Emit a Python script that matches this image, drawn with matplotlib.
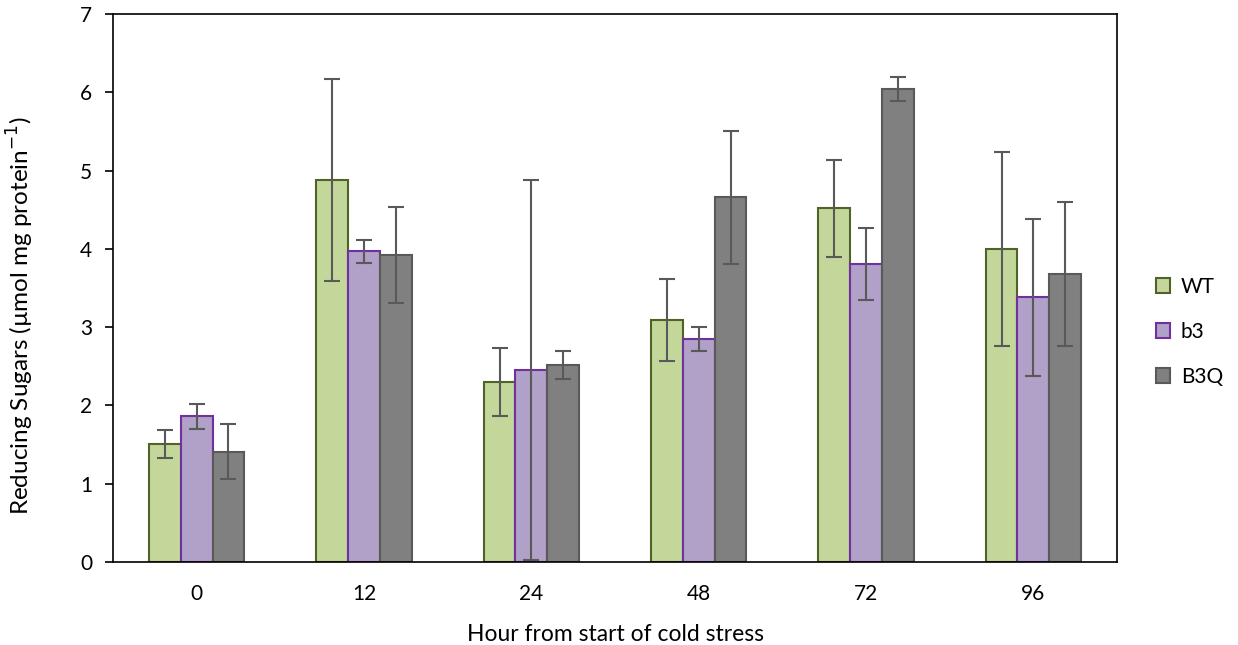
import numpy as np
import matplotlib.pyplot as plt

plt.rcParams['font.family'] = ['Lato', 'DejaVu Sans']

# Data
hours = ['0', '12', '24', '48', '72', '96']
wt = [1.51, 4.88, 2.30, 3.09, 4.52, 4.00]
wt_err = [0.18, 1.29, 0.43, 0.52, 0.62, 1.24]
b3 = [1.86, 3.97, 2.45, 2.85, 3.81, 3.38]
b3_err = [0.16, 0.145, 2.43, 0.15, 0.46, 1.00]
b3q = [1.41, 3.92, 2.52, 4.66, 6.04, 3.68]
b3q_err = [0.35, 0.61, 0.18, 0.85, 0.15, 0.92]

series = [
    ('WT', wt, wt_err, '#C4D79B', '#4F6228'),
    ('b3', b3, b3_err, '#B1A0C7', '#7030A0'),
    ('B3Q', b3q, b3q_err, '#808080', '#595959'),
]

fig = plt.figure(figsize=(12.38, 6.45), dpi=100)
ax = fig.add_axes([0.0913, 0.1287, 0.8110, 0.8496])

x = np.arange(len(hours))
w = 0.19
for i, (name, vals, errs, fc, ec) in enumerate(series):
    ax.bar(x + (i - 1) * w, vals, width=w, color=fc, edgecolor=ec, linewidth=1.5,
           label=name, yerr=errs, capsize=6,
           error_kw=dict(ecolor='#595959', elinewidth=1.5, capthick=1.5))

ax.set_xlim(-0.5, len(hours) - 0.5)
ax.set_ylim(0, 7)
ax.set_xticks(x)
ax.set_xticklabels(hours)
ax.set_yticks(range(8))
ax.tick_params(axis='x', length=0, labelsize=15, pad=16)
ax.tick_params(axis='y', direction='out', length=6, width=1.2, labelsize=15, pad=9)
for s in ax.spines.values():
    s.set_linewidth(1.2)

ax.set_xlabel('Hour from start of cold stress', fontsize=16.5, labelpad=14)
ax.set_ylabel('Reducing Sugars (µmol mg protein$^{-1}$)', fontsize=17.5)
ax.yaxis.set_label_coords(-0.077, 0.45)

ax.legend(loc='center left', bbox_to_anchor=(1.02, 0.42), frameon=False,
          fontsize=15, handlelength=0.7, handleheight=0.7, labelspacing=1.2,
          handletextpad=0.5)

fig.savefig('out.png', dpi=100)
